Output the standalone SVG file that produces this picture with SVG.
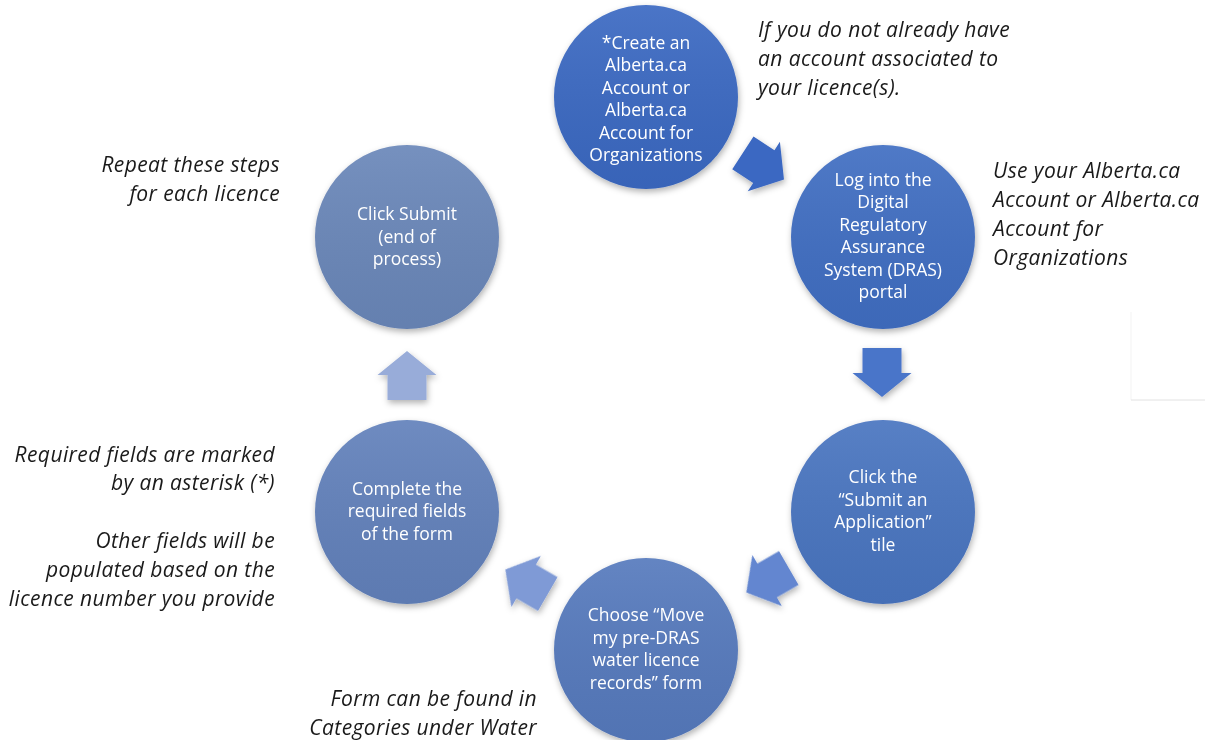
<svg xmlns="http://www.w3.org/2000/svg" width="1205" height="740" viewBox="0 0 1205 740">
<style>
.ct{font-family:"Open Sans","Noto Sans",sans-serif;font-size:17.5px;fill:#ffffff;text-anchor:middle}
.an{font-family:"Open Sans","Noto Sans",sans-serif;font-size:21px;letter-spacing:0.4px;font-style:italic;fill:#1a1a1a}
.r{text-anchor:end}
</style>
<defs>
<filter id="sh" x="-20%" y="-20%" width="140%" height="140%">
<feDropShadow dx="1" dy="3" stdDeviation="3" flood-color="#000" flood-opacity="0.3"/>
</filter>
<linearGradient id="hl" x1="0" y1="0" x2="0" y2="1">
<stop offset="0" stop-color="#fff" stop-opacity="0.08"/>
<stop offset="1" stop-color="#000" stop-opacity="0.05"/>
</linearGradient>
<path id="arr" d="M-24,-19.5 L1,-19.5 L1,-29.5 L25,0 L1,29.5 L1,19.5 L-24,19.5 Z"/>
</defs>
<rect width="1205" height="740" fill="#ffffff"/>
<g id="frame" fill="none">
<line x1="1131" y1="312" x2="1131" y2="400" stroke="#f3f3f3" stroke-width="1"/>
<line x1="1131" y1="400" x2="1205" y2="400" stroke="#e2e2e2" stroke-width="1"/>
</g>
<g id="connectors" filter="url(#sh)">
<use href="#arr" transform="translate(763,166) rotate(33)" fill="#3a67c2"/>
<use href="#arr" transform="translate(882,372) rotate(90)" fill="#4a75c9"/>
<use href="#arr" transform="translate(768,580) rotate(150)" fill="#6386d0"/>
<use href="#arr" transform="translate(527,582) rotate(210)" fill="#7f9ad6"/>
<use href="#arr" transform="translate(407,376) rotate(270)" fill="#98acd9"/>
</g>
<g id="n1">
<circle cx="646" cy="97" r="92" fill="#3b69c2" filter="url(#sh)"/>
<circle cx="646" cy="97" r="92" fill="url(#hl)"/>
<text class="ct" x="646" y="49">*Create an</text>
<text class="ct" x="646" y="71">Alberta.ca</text>
<text class="ct" x="646" y="94">Account or</text>
<text class="ct" x="646" y="116">Alberta.ca</text>
<text class="ct" x="646" y="139">Account for</text>
<text class="ct" x="646" y="161">Organizations</text>
</g>
<g id="n2">
<circle cx="883" cy="237" r="92" fill="#416ec2" filter="url(#sh)"/>
<circle cx="883" cy="237" r="92" fill="url(#hl)"/>
<text class="ct" x="883" y="186">Log into the</text>
<text class="ct" x="883" y="208">Digital</text>
<text class="ct" x="883" y="231">Regulatory</text>
<text class="ct" x="883" y="253">Assurance</text>
<text class="ct" x="883" y="276">System (DRAS)</text>
<text class="ct" x="883" y="298">portal</text>
</g>
<g id="n3">
<circle cx="883" cy="512" r="92" fill="#4a74c0" filter="url(#sh)"/>
<circle cx="883" cy="512" r="92" fill="url(#hl)"/>
<text class="ct" x="883" y="483">Click the</text>
<text class="ct" x="883" y="506">“Submit an</text>
<text class="ct" x="883" y="528">Application”</text>
<text class="ct" x="883" y="551">tile</text>
</g>
<g id="n4">
<circle cx="646" cy="650" r="92" fill="#567abd" filter="url(#sh)"/>
<circle cx="646" cy="650" r="92" fill="url(#hl)"/>
<text class="ct" x="646" y="621">Choose “Move</text>
<text class="ct" x="646" y="644">my pre-DRAS</text>
<text class="ct" x="646" y="666">water licence</text>
<text class="ct" x="646" y="689">records” form</text>
</g>
<g id="n5">
<circle cx="407" cy="512" r="92" fill="#6281bb" filter="url(#sh)"/>
<circle cx="407" cy="512" r="92" fill="url(#hl)"/>
<text class="ct" x="407" y="495">Complete the</text>
<text class="ct" x="407" y="517">required fields</text>
<text class="ct" x="407" y="540">of the form</text>
</g>
<g id="n6">
<circle cx="407" cy="237" r="92" fill="#6b87b9" filter="url(#sh)"/>
<circle cx="407" cy="237" r="92" fill="url(#hl)"/>
<text class="ct" x="407" y="220">Click Submit</text>
<text class="ct" x="407" y="243">(end of</text>
<text class="ct" x="407" y="265">process)</text>
</g>
<g id="notes">
<text class="an" x="758" y="37">If you do not already have</text>
<text class="an" x="758" y="66">an account associated to</text>
<text class="an" x="758" y="95">your licence(s).</text>
<text class="an" x="993" y="178">Use your Alberta.ca</text>
<text class="an" x="993" y="207">Account or Alberta.ca</text>
<text class="an" x="993" y="236">Account for</text>
<text class="an" x="993" y="265">Organizations</text>
<text class="an r" x="280" y="172">Repeat these steps</text>
<text class="an r" x="280" y="201">for each licence</text>
<text class="an r" x="275" y="462">Required fields are marked</text>
<text class="an r" x="275" y="490">by an asterisk (*)</text>
<text class="an r" x="275" y="548">Other fields will be</text>
<text class="an r" x="275" y="577">populated based on the</text>
<text class="an r" x="275" y="606">licence number you provide</text>
<text class="an r" x="537" y="706">Form can be found in</text>
<text class="an r" x="537" y="735">Categories under Water</text>
</g>
</svg>
